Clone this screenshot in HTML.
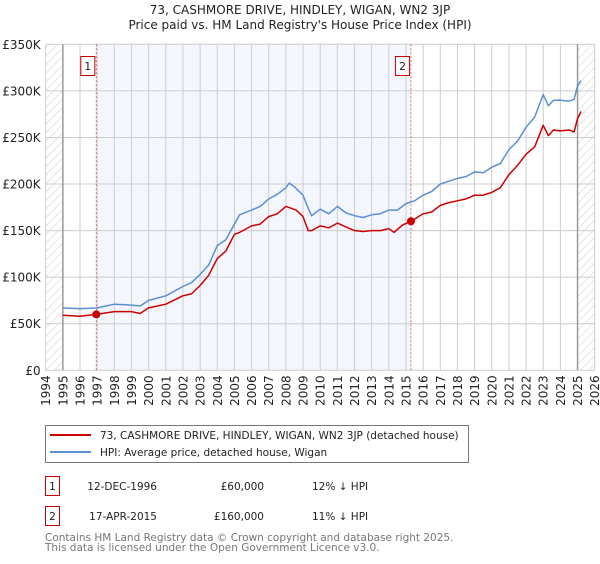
<!DOCTYPE html>
<html><head><meta charset="utf-8">
<style>
body{margin:0;background:#fff;font-family:"DejaVu Sans","Liberation Sans",sans-serif;}
svg text{font-family:"DejaVu Sans","Liberation Sans",sans-serif;}
</style></head>
<body>
<svg id="chart" width="600" height="560" viewBox="0 0 600 560" xmlns="http://www.w3.org/2000/svg">
<defs>
<pattern id="hatch" patternUnits="userSpaceOnUse" width="6" height="6" patternTransform="rotate(45)">
<line x1="0" y1="0" x2="0" y2="6" stroke="#ccc" stroke-width="1"/>
</pattern>
</defs>
<text x="300" y="14" text-anchor="middle" font-size="12" fill="#222">73, CASHMORE DRIVE, HINDLEY, WIGAN, WN2 3JP</text>
<text x="300" y="29" text-anchor="middle" font-size="12" fill="#222">Price paid vs. HM Land Registry's House Price Index (HPI)</text>
<g id="plot"></g>
<g>
<rect x="45.5" y="425.5" width="423" height="37" fill="#fff" stroke="#777"/>
<line x1="50" y1="435" x2="91" y2="435" stroke="#cc0000" stroke-width="2"/>
<text x="100" y="439" font-size="10.5" fill="#222">73, CASHMORE DRIVE, HINDLEY, WIGAN, WN2 3JP (detached house)</text>
<line x1="50" y1="452" x2="91" y2="452" stroke="#5b8fd4" stroke-width="2"/>
<text x="100" y="456" font-size="10.5" fill="#222">HPI: Average price, detached house, Wigan</text>
</g>
<g font-size="10.5" fill="#222">
<rect x="45.5" y="476.5" width="14" height="19" fill="#fff" stroke="#cc0000"/>
<text x="52.5" y="490" text-anchor="middle">1</text>
<text x="157" y="490" text-anchor="end">12-DEC-1996</text>
<text x="264" y="490" text-anchor="end">£60,000</text>
<text x="312" y="490">12% ↓ HPI</text>
</g>
<g font-size="10.5" fill="#222">
<rect x="45.5" y="506.5" width="14" height="19" fill="#fff" stroke="#cc0000"/>
<text x="52.5" y="520" text-anchor="middle">2</text>
<text x="157" y="520" text-anchor="end">17-APR-2015</text>
<text x="264" y="520" text-anchor="end">£160,000</text>
<text x="312" y="520">11% ↓ HPI</text>
</g>
<text x="45" y="541" font-size="10.5" fill="#777">Contains HM Land Registry data © Crown copyright and database right 2025.</text>
<text x="45" y="551" font-size="10.5" fill="#777">This data is licensed under the Open Government Licence v3.0.</text>
</svg>
<script>
const hpiYears=[1995,1996,1997,1998,1999,1999.5,2000,2001,2002,2002.5,2003,2003.5,2004,2004.5,2005,2005.3,2006,2006.5,2007,2007.5,2008,2008.2,2008.5,2009,2009.3,2009.5,2010,2010.5,2011,2011.5,2012,2012.5,2013,2013.5,2014,2014.5,2015,2015.5,2016,2016.5,2017,2017.5,2018,2018.5,2019,2019.5,2020,2020.5,2021,2021.5,2022,2022.5,2023,2023.3,2023.6,2024,2024.5,2024.8,2025,2025.2];
const hpiValues=[67,66,67,71,70,69,75,80,90,94,103,113,134,140,157,167,172,176,184,189,196,201,197,188,174,166,173,168,176,169,166,164,167,168,172,172,179,182,188,192,200,203,206,208,213,212,218,222,237,246,261,272,296,284,290,290,289,291,305,311];
const ppYears=[1995,1996,1996.95,1998,1999,1999.5,2000,2001,2002,2002.5,2003,2003.5,2004,2004.5,2005,2005.3,2006,2006.5,2007,2007.5,2008,2008.6,2009,2009.3,2009.5,2010,2010.5,2011,2011.5,2012,2012.5,2013,2013.5,2014,2014.3,2014.8,2015.3,2016,2016.5,2017,2017.5,2018,2018.5,2019,2019.5,2020,2020.5,2021,2021.5,2022,2022.5,2023,2023.3,2023.6,2024,2024.5,2024.8,2025,2025.2];
const ppValues=[59,58,60,63,63,61,67,71,80,82,91,102,120,128,146,148,155,157,165,168,176,172,165,150,150,155,153,158,154,150,149,150,150,152,148,156,160,168,170,177,180,182,184,188,188,191,196,210,220,232,240,263,252,258,257,258,256,270,278];
const yTicks=[0,50,100,150,200,250,300,350];
const yTickLabels=["£0","£50K","£100K","£150K","£200K","£250K","£300K","£350K"];
const sales=[{n:"1",year:1996.95,value:60},{n:"2",year:2015.29,value:160}];

const X0=45.7,X1=594.7,Y0=370.3,Y1=44.3,YMIN=1994,YMAX=2026,VMAX=350;
const sx=y=>X0+(y-YMIN)/(YMAX-YMIN)*(X1-X0);
const sy=v=>Y0-v/VMAX*(Y0-Y1);
const NS="http://www.w3.org/2000/svg";
const plot=document.getElementById('plot');
function mk(tag,attrs,parent){const e=document.createElementNS(NS,tag);for(const k in attrs)e.setAttribute(k,attrs[k]);(parent||plot).appendChild(e);return e;}

let r=mk('rect',{x:sx(sales[0].year),y:Y1,width:sx(sales[1].year)-sx(sales[0].year),height:Y0-Y1,fill:'#f3f6fd'});


r=mk('rect',{x:X0,y:Y1,width:sx(1995)-X0,height:Y0-Y1,fill:'url(#hatch)'});


r=mk('rect',{x:sx(2025),y:Y1,width:X1-sx(2025),height:Y0-Y1,fill:'url(#hatch)'});



for(let yr=YMIN;yr<=YMAX;yr++){
  const x=sx(yr);
  let l=mk('line',{x1:x,x2:x,y1:Y1,y2:Y0,stroke:'#cccccc','stroke-width':1});
  
  
  let t=mk('text',{x:0,y:0,'font-size':12,fill:'#222','text-anchor':'end',transform:`translate(${x+4.5},${Y0+5}) rotate(-90)`});
  t.textContent=String(yr);
  
  
}
yTicks.forEach((v,i)=>{
  const y=sy(v);
  let l=mk('line',{x1:X0,x2:X1,y1:y,y2:y,stroke:'#cccccc','stroke-width':1});
  
  
  let t=mk('text',{x:X0-5,y:y+4.5,'font-size':12,fill:'#222','text-anchor':'end'});
  t.textContent=yTickLabels[i];
  
  
});
[1995,2025].forEach(yr=>{
  let l=mk('line',{x1:sx(yr),x2:sx(yr),y1:Y1,y2:Y0,stroke:'#999','stroke-width':1.5});
  
  
});
sales.forEach(s=>{
  let l=mk('line',{x1:sx(s.year),x2:sx(s.year),y1:Y1,y2:Y0,stroke:'#e06666','stroke-width':1,'stroke-dasharray':'2,2'});
  
  
});
function path(xs,vs,color,name){
  const d=xs.map((y,i)=>(i?'L':'M')+sx(y).toFixed(1)+','+sy(vs[i]).toFixed(1)).join('');
  const p=mk('path',{d:d,fill:'none',stroke:color,'stroke-width':1.5,'stroke-linejoin':'round'});
  
  
}
path(hpiYears,hpiValues,'#5b8fd4','hpi-line');
path(ppYears,ppValues,'#cc0000','price-paid-line');
sales.forEach(s=>{
  let c=mk('circle',{cx:sx(s.year),cy:sy(s.value),r:4,fill:'#cc0000'});
  
  
  const bx=sx(s.year)-15;
  let b=mk('rect',{x:bx-0.5,y:56.5,width:14,height:19,fill:'#fff',stroke:'#cc0000'});
  
  
  let t=mk('text',{x:bx+6.5,y:70,'font-size':11,fill:'#222','text-anchor':'middle'});
  t.textContent=s.n;
  
  
});
</script>
</body></html>
